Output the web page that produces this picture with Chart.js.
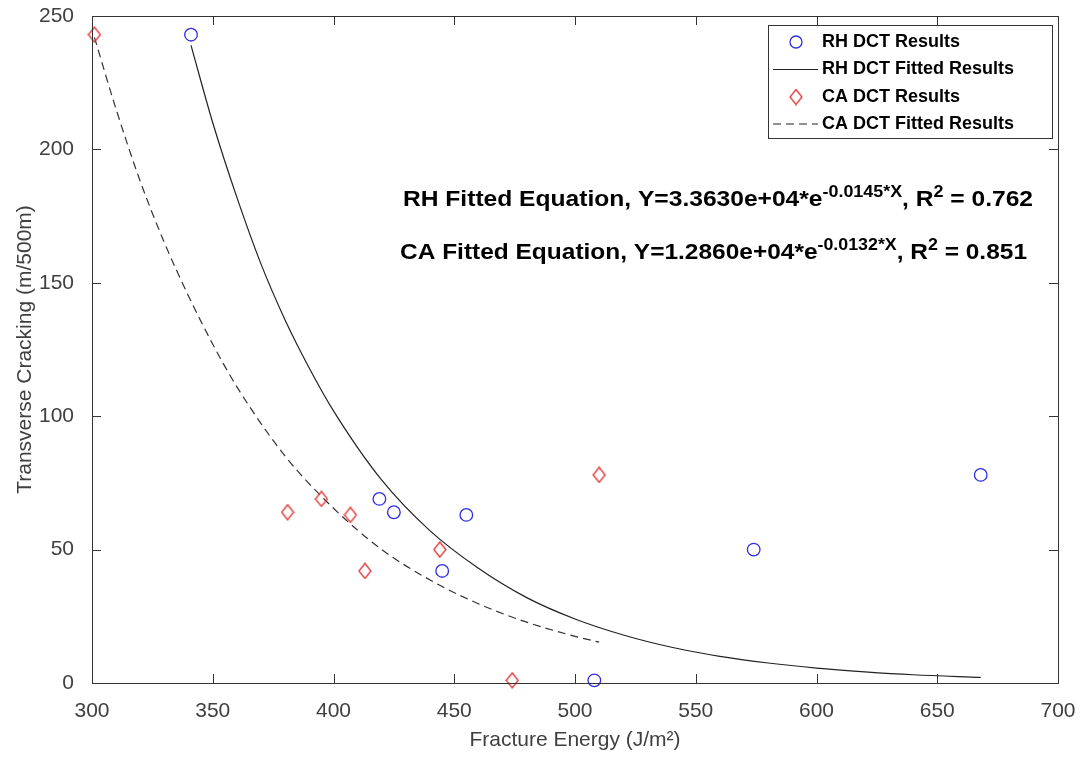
<!DOCTYPE html>
<html lang="en">
<head>
  <meta charset="UTF-8">
  <title>Transverse Cracking vs Fracture Energy</title>
  <script src="https://cdn.jsdelivr.net/npm/chart.js"></script>
  <style>
    body {
      margin: 0;
      background: #fff;
    }
    #wrap {
      width: 1086px;
      height: 767px;
    }
  </style>
</head>
<body>
  <div id="wrap">
    <canvas id="chart" width="1086" height="767"></canvas>
  </div>

  <script>
    // measured points
    const rhEnergy = [341, 419, 425, 455, 445, 508, 574, 668];
    const rhCracking = [243, 69, 64, 63, 42, 1, 50, 78];
    const caEnergy = [301, 381, 395, 407, 413, 444, 510, 474];
    const caCracking = [243, 64, 69, 63, 42, 50, 78, 1];

    // fitted curves
    const rhFitEnergy = [341, 350, 360, 370, 380, 390, 400, 420, 440, 460, 480, 500, 520, 540, 560, 580, 600, 620, 640, 668];
    const rhFitCracking = [239, 210, 182, 157, 136, 118, 102, 76, 57, 43, 32, 24, 18, 13.4, 10, 7.5, 5.6, 4.2, 3.1, 2.1];
    const caFitEnergy = [301, 310, 320, 330, 340, 350, 360, 380, 400, 420, 440, 460, 480, 500, 510];
    const caFitCracking = [242, 215, 188, 165, 145, 127, 111, 85, 65.5, 50, 38.6, 29.7, 22.8, 17.5, 15.3];

    const xTicks = [300, 350, 400, 450, 500, 550, 600, 650, 700];
    const yTicks = [0, 50, 100, 150, 200, 250];

    const seriesNames = ['RH DCT Results', 'RH DCT Fitted Results', 'CA DCT Results', 'CA DCT Fitted Results'];
    const equations = [
      ['RH Fitted Equation, Y=3.3630e+04*e', '-0.0145*X', ', R', '2', ' = 0.762'],
      ['CA Fitted Equation, Y=1.2860e+04*e', '-0.0132*X', ', R', '2', ' = 0.851']
    ];

    const BLUE = 'rgb(45,45,230)';
    const RED = 'rgb(228,50,50)';
    const AXIS = '#333333';
    const TEXT = '#404040';
    const FONT = '"Liberation Sans", Arial, sans-serif';

    const toXY = (xs, ys) => xs.map((x, i) => ({ x: x, y: ys[i] }));

    // MATLAB style diamond, a bit taller than wide
    function makeDiamond(w, h, color) {
      const c = document.createElement('canvas');
      c.width = w + 2;
      c.height = h + 2;
      const g = c.getContext('2d');
      g.strokeStyle = color;
      g.lineWidth = 1.3;
      g.beginPath();
      g.moveTo(c.width / 2, 1);
      g.lineTo(c.width - 1, c.height / 2);
      g.lineTo(c.width / 2, c.height - 1);
      g.lineTo(1, c.height / 2);
      g.closePath();
      g.stroke();
      return c;
    }
    const diamond = makeDiamond(12, 15, RED);

    // no extra room for overhanging tick labels, the box is fixed
    function noPad(s) {
      s.paddingTop = 0;
      s.paddingBottom = 0;
      s.paddingLeft = 0;
      s.paddingRight = 0;
    }

    // box, inward ticks, legend and equations
    const decorations = {
      id: 'decorations',
      afterDraw(chart) {
        const ctx = chart.ctx;
        const a = chart.chartArea;
        const xs = chart.scales.x;
        const ys = chart.scales.y;
        const tl = 9;

        ctx.save();
        ctx.strokeStyle = AXIS;
        ctx.lineWidth = 1;
        ctx.strokeRect(a.left + 0.5, a.top + 0.5, a.right - a.left, a.bottom - a.top);
        ctx.beginPath();
        xTicks.forEach(v => {
          const px = Math.round(xs.getPixelForValue(v)) + 0.5;
          ctx.moveTo(px, a.bottom); ctx.lineTo(px, a.bottom - tl);
          ctx.moveTo(px, a.top); ctx.lineTo(px, a.top + tl);
        });
        yTicks.forEach(v => {
          const py = Math.round(ys.getPixelForValue(v)) + 0.5;
          ctx.moveTo(a.left, py); ctx.lineTo(a.left + tl, py);
          ctx.moveTo(a.right, py); ctx.lineTo(a.right - tl, py);
        });
        ctx.stroke();

        // equations with superscripts
        const big = 'bold 22px ' + FONT;
        const small = 'bold 16px ' + FONT;
        const eqPos = [
          { left: 403, right: 1033, base: 206 },
          { left: 400, right: 1027, base: 259 }
        ];
        equations.forEach((parts, i) => {
          let total = 0;
          const widths = parts.map((t, j) => {
            ctx.font = j % 2 ? small : big;
            const w = ctx.measureText(t).width;
            total += w;
            return w;
          });
          const p = eqPos[i];
          ctx.save();
          ctx.translate(p.left, p.base);
          ctx.scale((p.right - p.left) / total, 1);
          ctx.fillStyle = '#000';
          ctx.textBaseline = 'alphabetic';
          let x = 0;
          parts.forEach((t, j) => {
            ctx.font = j % 2 ? small : big;
            ctx.fillText(t, x, j % 2 ? -9 : 0);
            x += widths[j];
          });
          ctx.restore();
        });

        // legend box
        const lx = 768, ly = 25, lw = 284, lh = 113;
        ctx.fillStyle = '#fff';
        ctx.fillRect(lx, ly, lw, lh);
        ctx.strokeStyle = AXIS;
        ctx.strokeRect(lx + 0.5, ly + 0.5, lw, lh);
        const rows = [42, 69.5, 97, 124];
        const cx = 796;
        ctx.font = 'bold 18px ' + FONT;
        ctx.textBaseline = 'middle';
        rows.forEach((ry, i) => {
          ctx.save();
          if (i === 0) {
            ctx.strokeStyle = BLUE;
            ctx.lineWidth = 1.3;
            ctx.beginPath();
            ctx.arc(cx, ry, 6, 0, Math.PI * 2);
            ctx.stroke();
          } else if (i === 2) {
            ctx.drawImage(diamond, cx - diamond.width / 2, ry - diamond.height / 2);
          } else {
            ctx.strokeStyle = '#222';
            ctx.lineWidth = 1.2;
            if (i === 3) ctx.setLineDash([8, 5]);
            ctx.beginPath();
            ctx.moveTo(773, ry);
            ctx.lineTo(818, ry);
            ctx.stroke();
          }
          ctx.restore();
          ctx.fillStyle = '#000';
          ctx.fillText(seriesNames[i], 822, ry);
        });
        ctx.restore();
      }
    };

    const ctx = document.getElementById('chart').getContext('2d');
    new Chart(ctx, {
      type: 'scatter',
      data: {
        datasets: [
          {
            label: seriesNames[0],
            data: toXY(rhEnergy, rhCracking),
            pointStyle: 'circle',
            pointRadius: 6.3,
            pointBorderWidth: 1.3,
            borderColor: BLUE,
            backgroundColor: 'rgba(0,0,0,0)',
            clip: false
          },
          {
            label: seriesNames[1],
            data: toXY(rhFitEnergy, rhFitCracking),
            showLine: true,
            pointRadius: 0,
            borderColor: '#222',
            borderWidth: 1.2,
            cubicInterpolationMode: 'monotone'
          },
          {
            label: seriesNames[2],
            data: toXY(caEnergy, caCracking),
            pointStyle: diamond,
            pointRadius: 7,
            borderColor: RED,
            backgroundColor: 'rgba(0,0,0,0)',
            clip: false
          },
          {
            label: seriesNames[3],
            data: toXY(caFitEnergy, caFitCracking),
            showLine: true,
            pointRadius: 0,
            borderColor: '#333',
            borderWidth: 1.2,
            borderDash: [8, 5],
            cubicInterpolationMode: 'monotone'
          }
        ]
      },
      options: {
        responsive: false,
        animation: false,
        layout: {
          padding: { top: 16, right: 28, left: 0, bottom: 0 }
        },
        plugins: {
          legend: { display: false },
          tooltip: { enabled: false }
        },
        scales: {
          x: {
            type: 'linear',
            min: 300,
            max: 700,
            afterFit: s => { s.height = 84; noPad(s); },
            afterBuildTicks: s => { s.ticks = xTicks.map(v => ({ value: v })); },
            grid: { display: false },
            border: { display: false },
            ticks: {
              color: TEXT,
              font: { family: FONT, size: 21 },
              padding: 8,
              maxRotation: 0
            },
            title: {
              display: true,
              text: 'Fracture Energy (J/m²)',
              color: TEXT,
              font: { family: FONT, size: 21 },
              padding: { top: 0, bottom: 14 }
            }
          },
          y: {
            type: 'linear',
            min: 0,
            max: 250,
            afterFit: s => { s.width = 92; noPad(s); },
            afterBuildTicks: s => { s.ticks = yTicks.map(v => ({ value: v })); },
            grid: { display: false },
            border: { display: false },
            ticks: {
              color: TEXT,
              font: { family: FONT, size: 21 },
              padding: 10
            },
            title: {
              display: true,
              text: 'Transverse Cracking (m/500m)',
              color: TEXT,
              font: { family: FONT, size: 21 },
              padding: { top: 13, bottom: 0 }
            }
          }
        }
      },
      plugins: [decorations]
    });
  </script>
</body>
</html>
